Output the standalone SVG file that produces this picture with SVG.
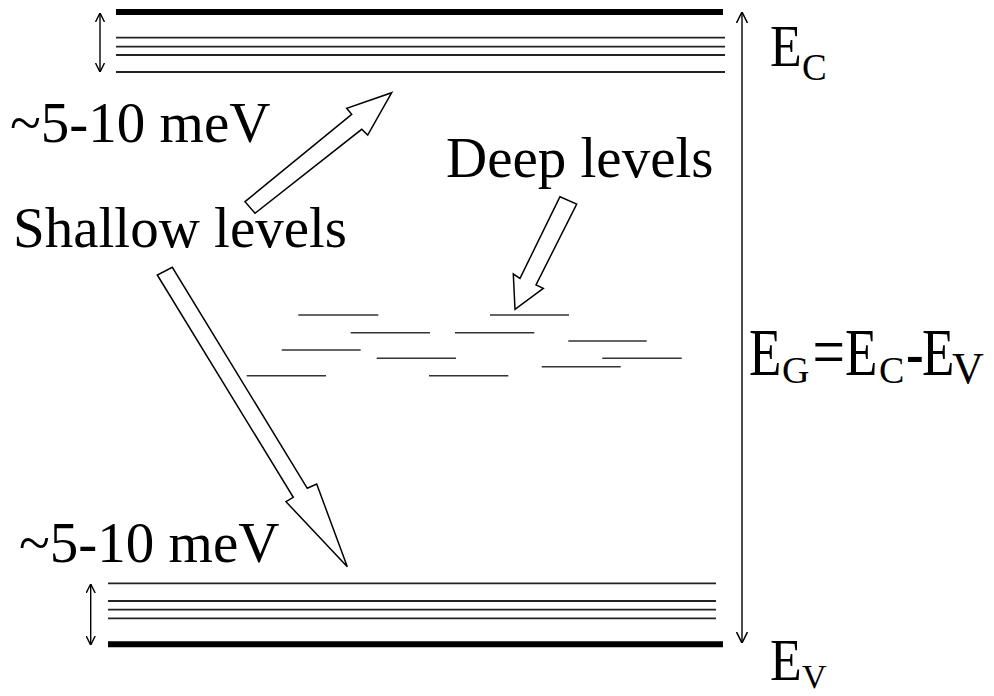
<svg xmlns="http://www.w3.org/2000/svg" width="994" height="696" viewBox="0 0 994 696">
<defs>
<style>
.lbl{font-family:"Liberation Serif","Times New Roman",serif;font-size:57px;fill:#000}
.big{font-family:"Liberation Serif","Times New Roman",serif;fill:#000}
.thin{stroke:#222;stroke-width:1.8;fill:none}
.thick{stroke:#000;stroke-width:6;fill:none}
.lvl{stroke:#333;stroke-width:1.6;fill:none}
.block{fill:#fff;stroke:#000;stroke-width:1.5;stroke-linejoin:miter}
.dim{stroke:#000;stroke-width:1.4;fill:none}
</style>
<marker id="chevS" viewBox="0 0 10 10" refX="10" refY="5" markerWidth="9" markerHeight="10" orient="auto-start-reverse" markerUnits="userSpaceOnUse">
<path d="M0,0 L10,5 L0,10" fill="none" stroke="#000" stroke-width="1.6"/>
</marker>
<marker id="chevL" viewBox="0 0 10 10" refX="10" refY="5" markerWidth="11" markerHeight="13" orient="auto-start-reverse" markerUnits="userSpaceOnUse">
<path d="M0,0 L10,5 L0,10" fill="none" stroke="#000" stroke-width="1.4"/>
</marker>
</defs>
<rect width="994" height="696" fill="#fff"/>

<g id="conduction-band">
<line class="thick" x1="116" y1="12" x2="723" y2="12"/>
<line class="thin" x1="116" y1="37.7" x2="725" y2="37.7"/>
<line class="thin" x1="116" y1="46.7" x2="725" y2="46.7"/>
<line class="thin" x1="116" y1="55" x2="725" y2="55"/>
<line class="thin" x1="116" y1="72" x2="725" y2="72"/>
</g>

<g id="valence-band">
<line class="thin" x1="108" y1="583.3" x2="716" y2="583.3"/>
<line class="thin" x1="108" y1="601" x2="716" y2="601"/>
<line class="thin" x1="108" y1="609.7" x2="716" y2="609.7"/>
<line class="thin" x1="108" y1="618.3" x2="716" y2="618.3"/>
<line class="thick" x1="108" y1="644.3" x2="723" y2="644.3"/>
</g>

<g id="deep-levels">
<line class="lvl" x1="298.3" y1="315" x2="378.3" y2="315"/>
<line class="lvl" x1="490" y1="315" x2="569" y2="315"/>
<line class="lvl" x1="350.7" y1="332.7" x2="430" y2="332.7"/>
<line class="lvl" x1="455" y1="332.7" x2="534.3" y2="332.7"/>
<line class="lvl" x1="568.3" y1="341" x2="646.7" y2="341"/>
<line class="lvl" x1="281.7" y1="350" x2="360.7" y2="350"/>
<line class="lvl" x1="376.7" y1="358.3" x2="456" y2="358.3"/>
<line class="lvl" x1="602.3" y1="358.3" x2="681.7" y2="358.3"/>
<line class="lvl" x1="541.7" y1="366.7" x2="620.7" y2="366.7"/>
<line class="lvl" x1="246.7" y1="375.7" x2="326" y2="375.7"/>
<line class="lvl" x1="429" y1="375.7" x2="508.3" y2="375.7"/>
</g>

<g id="connectors">
<line class="dim" x1="100" y1="13" x2="100" y2="72" marker-start="url(#chevS)" marker-end="url(#chevS)"/>
<line class="dim" x1="90.7" y1="584" x2="90.7" y2="645" marker-start="url(#chevS)" marker-end="url(#chevS)"/>
<line class="dim" x1="742" y1="12" x2="742" y2="643" marker-start="url(#chevL)" marker-end="url(#chevL)"/>
<polygon class="block" points="245,201.7 351.7,114.3 346.7,108.3 391.7,92.7 367.7,135 361.7,129.3 255,213.3"/>
<polygon class="block" points="157.3,275 293.3,497.3 286,501.7 347.3,566.7 316.7,484 307.3,488.3 172.3,267.3"/>
<polygon class="block" points="560,196.7 520,278.3 513.3,274 515,309.3 543.3,288.3 536,285 576.7,204"/>
</g>

<g id="label-top-mev"><text class="lbl" x="10" y="141.7">~5-10 meV</text></g>
<g id="label-shallow"><text class="lbl" x="13" y="246.7">Shallow levels</text></g>
<g id="label-deep"><text class="lbl" x="446" y="177">Deep levels</text></g>
<g id="label-bottom-mev"><text class="lbl" x="19" y="561.7">~5-10 meV</text></g>

<g id="label-EC">
<text class="big" font-size="59" transform="matrix(0.88,0,0,1,770,65.7)">E</text>
<text class="big" font-size="37" x="802" y="79.5">C</text>
</g>
<g id="label-EV">
<text class="big" font-size="59" transform="matrix(0.88,0,0,1,770,680)">E</text>
<text class="big" font-size="34" x="802" y="688">V</text>
</g>
<g id="label-EG">
<text class="big" font-size="68" transform="matrix(0.78,0,0,1,749,375)">E</text>
<text class="big" font-size="38" x="782" y="382.5">G</text>
<text class="big" font-size="72" transform="matrix(0.8,0,0,1,812.5,376)">=</text>
<text class="big" font-size="68" transform="matrix(0.78,0,0,1,845,375)">E</text>
<text class="big" font-size="38" x="879" y="382.5">C</text>
<text class="big" font-size="68" transform="matrix(0.78,0,0,1,906,375)">-</text>
<text class="big" font-size="68" transform="matrix(0.78,0,0,1,922,375)">E</text>
<text class="big" font-size="44" x="952" y="382.5">V</text>
</g>
</svg>
